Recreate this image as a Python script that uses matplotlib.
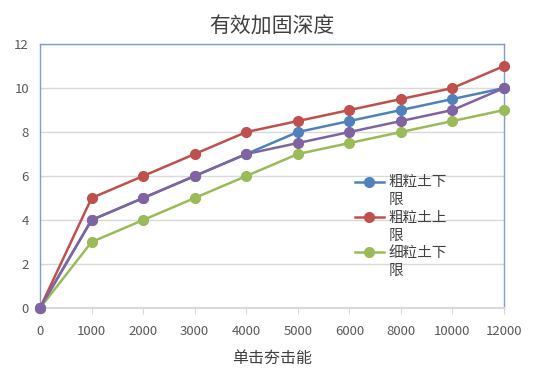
import matplotlib.pyplot as plt
import numpy as np
from matplotlib.legend_handler import HandlerLine2D

plt.rcParams['font.family'] = ['Noto Sans CJK SC', 'DejaVu Sans']

energy = ['0', '1000', '2000', '3000', '4000', '5000', '6000', '8000', '10000', '12000']
coarse_low = [0, 4, 5, 6, 7, 8, 8.5, 9, 9.5, 10]
coarse_high = [0, 5, 6, 7, 8, 8.5, 9, 9.5, 10, 11]
fine_low = [0, 3, 4, 5, 6, 7, 7.5, 8, 8.5, 9]
fine_high = [0, 4, 5, 6, 7, 7.5, 8, 8.5, 9, 10]

series = [
    ('粗粒土下\n限', coarse_low, '#4F81BD'),
    ('粗粒土上\n限', coarse_high, '#C0504D'),
    ('细粒土下\n限', fine_low, '#9BBB59'),
    ('_细粒土上限', fine_high, '#8064A2'),
]


class FirstLineHandler(HandlerLine2D):
    # put the legend marker next to the first line of a wrapped label
    def create_artists(self, legend, orig_handle, xdescent, ydescent,
                       width, height, fontsize, trans):
        arts = super().create_artists(legend, orig_handle, xdescent, ydescent,
                                      width, height, fontsize, trans)
        for a in arts:
            a.set_ydata(np.asarray(a.get_ydata()) + fontsize * 0.68)
        return arts


fig = plt.figure(figsize=(5.41, 3.8), dpi=100)
ax = fig.add_axes([0.074, 0.1895, 0.8576, 0.6945])

x = np.arange(len(energy))
lines = []
for label, vals, color in series:
    ln, = ax.plot(x, vals, color=color, lw=1.8, marker='o', markersize=7,
                  label=label, clip_on=False, zorder=3)
    lines.append(ln)

ax.set_xlim(0, len(energy) - 1)
ax.set_ylim(0, 12)
ax.set_yticks(range(0, 13, 2))
ax.set_xticks(x)
ax.set_xticklabels(energy)
ax.grid(axis='y', color='#d9d9d9', lw=1)
ax.set_axisbelow(True)

for side in ['left', 'right', 'top']:
    ax.spines[side].set_color('#7f9ccb')
    ax.spines[side].set_linewidth(1)
ax.spines['bottom'].set_color('#d9d9d9')
ax.spines['bottom'].set_linewidth(1.5)

ax.tick_params(axis='y', length=0, pad=8, labelsize=9.5, labelcolor='#595959')
ax.tick_params(axis='x', length=4, color='#d9d9d9', pad=8, labelsize=9.5,
               labelcolor='#595959')

ax.set_title('有效加固深度', fontsize=15, color='#404040', pad=8)
ax.set_xlabel('单击夯击能', fontsize=11.5, color='#404040', labelpad=9)

leg = ax.legend(handles=lines[:3], loc='upper left', bbox_to_anchor=(0.666, 0.525),
                frameon=False, fontsize=10.5, labelcolor='#404040',
                handlelength=2.0, handletextpad=0.3, labelspacing=0.24,
                borderaxespad=0,
                handler_map={ln: FirstLineHandler() for ln in lines[:3]})
for t in leg.get_texts():
    t.set_linespacing(1.35)

plt.savefig('out.png', dpi=100)
